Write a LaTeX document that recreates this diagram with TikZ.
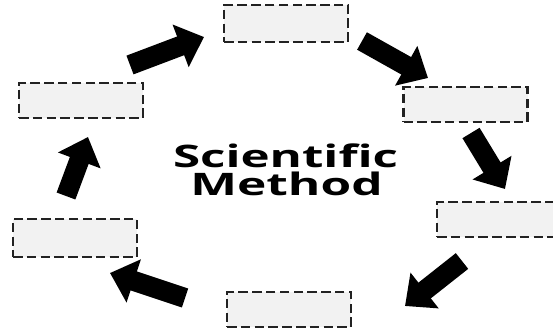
\documentclass[tikz,border=0pt]{standalone}
\usepackage{fontspec}
\setmainfont{Open Sans}
\usetikzlibrary{arrows.meta}
\definecolor{boxfill}{HTML}{F2F2F2}
\definecolor{boxline}{HTML}{222222}
\tikzset{
  blank/.style={draw=boxline, fill=boxfill, dash pattern=on 9.5pt off 4.3pt, line width=2.2pt,
    minimum width=124pt, minimum height=36pt, inner sep=0pt},
  blockarrow/.style={line width=20pt, -{Triangle[width=44pt,length=25pt]}},
  title/.style={font=\bfseries\fontsize{31}{31}\selectfont, anchor=base, inner sep=0pt}
}
\begin{document}
\begin{tikzpicture}[x=1pt,y=-1pt]
\useasboundingbox (0,0) rectangle (553,329);
\clip (0,0) rectangle (553,329);
\node[blank, minimum height=37pt] (top) at (286,23.5) {};
\node[blank, minimum height=35pt] (ur) at (465.5,104.5) {};
\node[blank, minimum height=35pt] (rl) at (499,219.5) {};
\node[blank, minimum height=35pt] (bot) at (289,309.5) {};
\node[blank, minimum height=38pt] (ll) at (75,238) {};
\node[blank, minimum height=35pt] (ul) at (81,100.5) {};
\node[title] (sci) at (285.5,167) {\scalebox{1.59}[1]{Scientific}};
\node[title] (meth) at (286.5,195) {\scalebox{1.6}[1]{Method}};
\coordinate (a1s) at (130,65);  \coordinate (a1e) at (204,37);
\coordinate (a2s) at (362,41);  \coordinate (a2e) at (428,78);
\coordinate (a3s) at (471,133); \coordinate (a3e) at (505,189);
\coordinate (a4s) at (462,261); \coordinate (a4e) at (405,306);
\coordinate (a5s) at (185,298); \coordinate (a5e) at (110,273);
\coordinate (a6s) at (66,196);  \coordinate (a6e) at (88,137);
\draw[blockarrow] (a1s) -- (a1e);
\draw[blockarrow] (a2s) -- (a2e);
\draw[blockarrow] (a3s) -- (a3e);
\draw[blockarrow] (a4s) -- (a4e);
\draw[blockarrow] (a5s) -- (a5e);
\draw[blockarrow] (a6s) -- (a6e);
\end{tikzpicture}
\end{document}
